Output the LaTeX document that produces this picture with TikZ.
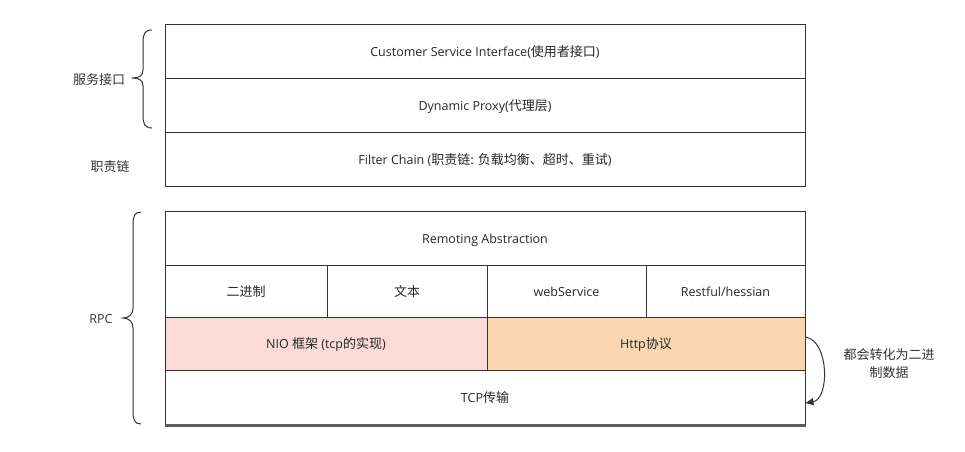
\documentclass[tikz,border=0pt]{standalone}
\usepackage{fontspec}
\setmainfont{Open Sans}
\newfontfamily\cjkfam{Noto Sans CJK SC}
\newcommand\zh[1]{{\cjkfam\fontsize{13}{14}\selectfont #1}}
\usetikzlibrary{arrows.meta}
\definecolor{edge}{HTML}{333333}
\definecolor{pinkfill}{HTML}{FADBD8}
\definecolor{orangefill}{HTML}{F9D6B0}
\begin{document}
\begin{tikzpicture}[x=1pt,y=-1pt,
  layer/.style={draw=edge,line width=1pt,rectangle,inner sep=0pt,text height=13pt,text depth=3pt,font=\fontsize{12.5}{14}\selectfont,text=black!85},
  lbl/.style={font=\fontsize{13}{18}\selectfont\cjkfam,text=black!80,align=center,inner sep=0pt},
  bracepath/.style={draw=edge,line width=1pt}]
\useasboundingbox (0,0) rectangle (965,451);
% top group
\node[layer,minimum width=640pt,minimum height=54pt] (csi) at (485,51) {Customer Service Interface(\zh{使用者接口})};
\node[layer,minimum width=640pt,minimum height=54pt] (proxy) at (485,105) {Dynamic Proxy(\zh{代理层})};
\node[layer,minimum width=640pt,minimum height=54pt] (filter) at (485,159) {Filter Chain (\zh{职责链: 负载均衡、超时、重试})};
% bottom group
\node[layer,minimum width=640pt,minimum height=54pt] (remote) at (485,238) {Remoting Abstraction};
\node[layer,minimum width=162pt,minimum height=52pt] (bin) at (246,291) {\zh{二进制}};
\node[layer,minimum width=160pt,minimum height=52pt] (txt) at (407,291) {\zh{文本}};
\node[layer,minimum width=159pt,minimum height=52pt] (ws) at (566.5,291) {webService};
\node[layer,minimum width=159pt,minimum height=52pt] (rest) at (725.5,291) {Restful/hessian};
\node[layer,fill=pinkfill,minimum width=322pt,minimum height=53pt] (nio) at (326,343.5) {NIO \zh{框架} (tcp\zh{的实现})};
\node[layer,fill=orangefill,minimum width=318pt,minimum height=53pt] (http) at (646,343.5) {Http\zh{协议}};
\node[layer,minimum width=640pt,minimum height=54pt] (tcp) at (485,397) {TCP\zh{传输}};
% heavier bottom edge
\draw[edge!80,line width=2.5pt] ([yshift=-1pt]tcp.south west) -- ([yshift=-1pt]tcp.south east);
% labels
\node[lbl] (svc) at (99,80) {服务接口};
\node[lbl] (duty) at (110,167) {职责链};
\node[lbl,font=\fontsize{12.5}{17}\selectfont] (rpc) at (101,319) {RPC};
\node[lbl] (conv) at (889,364) {都会转化为二进\\制数据};
% braces
\draw[bracepath] (152,30) .. controls (145,30) and (143,34) .. (143,42) -- (143,70)
  .. controls (143,76) and (139,78) .. (132,78)
  .. controls (139,78) and (143,80) .. (143,86) -- (143,116)
  .. controls (143,124) and (145,128) .. (152,128);
\draw[bracepath] (141,212) .. controls (135,212) and (133,216) .. (133,224) -- (133,308)
  .. controls (133,314) and (129,318) .. (123,318)
  .. controls (129,318) and (133,322) .. (133,328) -- (133,412)
  .. controls (133,420) and (135,424) .. (141,424);
% curved arrow
\draw[draw=edge,line width=1pt,-{Triangle[length=8pt,width=7pt]}]
  ([yshift=6.5pt]http.east) .. controls +(24,4) and +(24,-4) .. ([yshift=-6pt]tcp.east);
\end{tikzpicture}
\end{document}
